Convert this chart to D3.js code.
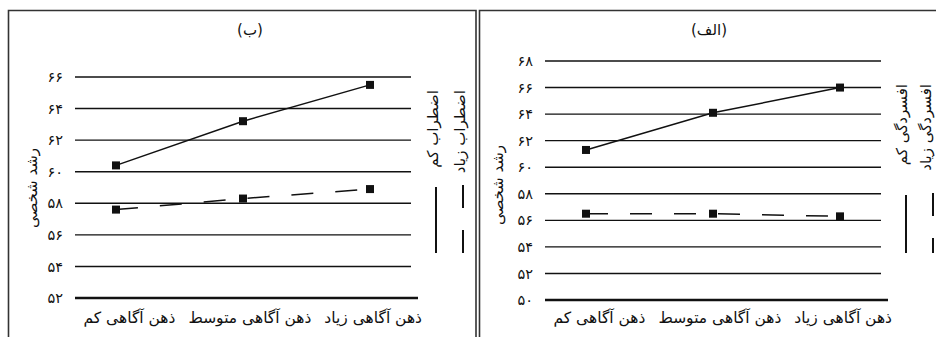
<!DOCTYPE html>
<html>
<head>
<meta charset="utf-8">
<script src="https://cdn.jsdelivr.net/npm/d3@7"></script>
<style>
  body { margin: 0; background: #fff; }
  svg { display: block; font-family: "DejaVu Sans", sans-serif; }
</style>
</head>
<body>
<div id="chart"></div>
<script>
// categories on the x axis (left to right)
const categories = ['ذهن آگاهی کم', 'ذهن آگاهی متوسط', 'ذهن آگاهی زیاد'];

// panel (ب) - anxiety
const anxietyLow = [60.4, 63.2, 65.5];
const anxietyHigh = [57.6, 58.3, 58.9];
const anxietyTicks = [52, 54, 56, 58, 60, 62, 64, 66];
const anxietyLegend = ['اضطراب کم', 'اضطراب زیاد'];

// panel (الف) - depression
const depressionLow = [61.3, 64.1, 66.0];
const depressionHigh = [56.5, 56.5, 56.3];
const depressionTicks = [50, 52, 54, 56, 58, 60, 62, 64, 66, 68];
const depressionLegend = ['افسردگی کم', 'افسردگی زیاد'];

const yTitle = 'رشد شخصی';

const width = 936;
const height = 337;

const svg = d3.select('#chart')
  .append('svg')
  .attr('width', width)
  .attr('height', height);

// western digits -> persian digits
const fa = n => String(n).replace(/\d/g, c => '۰۱۲۳۴۵۶۷۸۹'[+c]);

function drawPanel(opt) {
  const g = svg.append('g');

  // frame
  g.append('path')
    .attr('d', `M${opt.frame[0]},${height + 5}V${opt.frame[1]}H${opt.frame[2]}` + (opt.frame[3] ? `V${height + 5}` : ''))
    .attr('fill', 'none')
    .attr('stroke', '#333')
    .attr('stroke-width', 1.6);

  const x = d3.scalePoint()
    .domain(categories)
    .range([opt.x0 + 41, opt.x0 + 295]);

  const y = d3.scaleLinear()
    .domain(d3.extent(opt.ticks))
    .range([opt.yBottom, opt.yTop]);

  // gridlines
  g.selectAll('.grid')
    .data(opt.ticks.slice(1))
    .enter()
    .append('line')
    .attr('x1', opt.x0)
    .attr('x2', opt.x0 + 336)
    .attr('y1', d => y(d))
    .attr('y2', d => y(d))
    .attr('stroke', '#111')
    .attr('stroke-width', 1.4);

  // base axis line
  g.append('line')
    .attr('x1', opt.x0)
    .attr('x2', opt.x0 + 343)
    .attr('y1', y(opt.ticks[0]))
    .attr('y2', y(opt.ticks[0]))
    .attr('stroke', '#111')
    .attr('stroke-width', 2.6);

  // tick labels
  g.selectAll('.tick')
    .data(opt.ticks)
    .enter()
    .append('text')
    .attr('x', opt.x0 - 12)
    .attr('y', d => y(d))
    .attr('dy', '0.35em')
    .attr('text-anchor', 'end')
    .attr('font-size', 14.5)
    .attr('fill', '#111')
    .text(d => fa(d));

  // series
  const line = d3.line()
    .x((d, i) => x(categories[i]))
    .y(d => y(d));

  const series = [
    { values: opt.low, dash: null },
    { values: opt.high, dash: '22,22' }
  ];

  series.forEach(s => {
    g.append('path')
      .datum(s.values)
      .attr('d', line)
      .attr('fill', 'none')
      .attr('stroke', '#111')
      .attr('stroke-width', 1.5)
      .attr('stroke-dasharray', s.dash);

    g.selectAll(null)
      .data(s.values)
      .enter()
      .append('rect')
      .attr('x', (d, i) => x(categories[i]) - 4)
      .attr('y', d => y(d) - 4)
      .attr('width', 8)
      .attr('height', 8)
      .attr('fill', '#111');
  });

  // category labels, laid out right to left like the original
  const labels = g.selectAll('.cat')
    .data(categories)
    .enter()
    .append('text')
    .attr('y', 323)
    .attr('text-anchor', 'end')
    .attr('font-size', 15.5)
    .attr('fill', '#111')
    .text(d => d);

  let right = opt.x0 + 347;
  labels.nodes().reverse().forEach(node => {
    d3.select(node).attr('x', right);
    right -= node.getComputedTextLength() + 13;
  });

  // panel title
  g.append('text')
    .attr('x', opt.titleX)
    .attr('y', 30)
    .attr('dy', '0.35em')
    .attr('text-anchor', 'middle')
    .attr('font-size', 15)
    .attr('fill', '#111')
    .text(opt.title);

  // y axis title
  g.append('text')
    .attr('transform', `translate(${opt.yTitleX},${opt.yTitleY}) rotate(-90)`)
    .attr('dy', '0.35em')
    .attr('text-anchor', 'middle')
    .attr('font-size', 15)
    .attr('fill', '#111')
    .text(yTitle);

  // legend: rotated names with a line sample underneath
  opt.legend.forEach((name, i) => {
    const lx = opt.legendX[i];
    g.append('text')
      .attr('transform', `translate(${lx},${opt.legendTop}) rotate(-90)`)
      .attr('dy', '0.35em')
      .attr('text-anchor', 'end')
      .attr('font-size', 15)
      .attr('fill', '#111')
      .text(name);

    g.append('line')
      .attr('x1', opt.legendLineX[i])
      .attr('x2', opt.legendLineX[i])
      .attr('y1', opt.legendLine[i])
      .attr('y2', 253)
      .attr('stroke', '#111')
      .attr('stroke-width', 2)
      .attr('stroke-dasharray', i === 0 ? null : '23,22');
  });
}

drawPanel({
  frame: [8.5, 10.5, 476, true],
  x0: 75,
  yTop: 77,
  yBottom: 298,
  ticks: anxietyTicks,
  low: anxietyLow,
  high: anxietyHigh,
  title: '(ب)',
  titleX: 250,
  yTitleX: 32,
  yTitleY: 188,
  legend: anxietyLegend,
  legendX: [433, 460],
  legendLineX: [436, 463],
  legendTop: 90,
  legendLine: [187, 185]
});

drawPanel({
  frame: [479.5, 10.5, 940, false],
  x0: 545,
  yTop: 61,
  yBottom: 300,
  ticks: depressionTicks,
  low: depressionLow,
  high: depressionHigh,
  title: '(الف)',
  titleX: 709,
  yTitleX: 498,
  yTitleY: 185,
  legend: depressionLegend,
  legendX: [902, 926],
  legendLineX: [906, 933],
  legendTop: 84,
  legendLine: [195, 193]
});
</script>
</body>
</html>
